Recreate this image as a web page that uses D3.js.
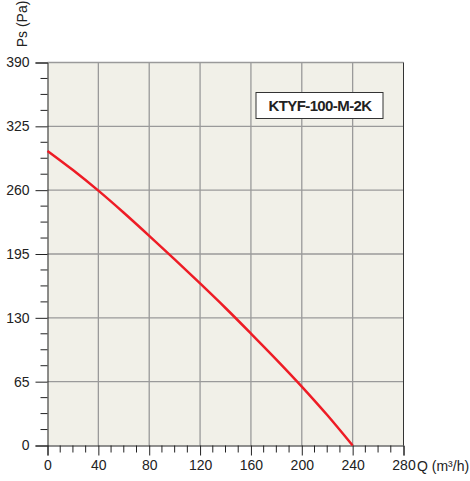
<!DOCTYPE html>
<html><head><meta charset="utf-8">
<script src="https://cdn.jsdelivr.net/npm/d3@7"></script>
<style>body{margin:0;background:#fff;} svg{display:block;font-family:"Liberation Sans",Arial,sans-serif;}</style>
</head><body>
<svg id="c" width="470" height="481"></svg>
<script>
const flowQ = [0, 20, 40, 60, 80, 100, 120, 140, 160, 180, 200, 220, 240];
const pressurePs = [300, 280.5, 259.5, 237, 213.5, 189.5, 165, 140, 114, 87.5, 60, 31, 0];
const xTicks = [0, 40, 80, 120, 160, 200, 240, 280];
const yTicks = [0, 65, 130, 195, 260, 325, 390];
const modelName = "KTYF-100-M-2K";

const svg = d3.select("#c");
const L = 47.5, R = 403.5, T = 62.5, B = 445.5;
const x = d3.scaleLinear().domain([0, 280]).range([L, R]);
const y = d3.scaleLinear().domain([0, 390]).range([B, T]);
const FONT = "Liberation Sans, Arial, sans-serif";

svg.append("rect").attr("x", L).attr("y", T).attr("width", R - L).attr("height", B - T).attr("fill", "#f1f0e8");

const grid = svg.append("g").attr("stroke", "#9a9a9a").attr("stroke-width", 1.3);
xTicks.slice(1, -1).forEach(v => grid.append("line").attr("x1", x(v)).attr("x2", x(v)).attr("y1", T).attr("y2", B));
yTicks.slice(1).forEach(v => grid.append("line").attr("x1", L).attr("x2", R).attr("y1", y(v)).attr("y2", y(v)));
svg.append("line").attr("x1", R).attr("x2", R).attr("y1", T).attr("y2", B).attr("stroke", "#333").attr("stroke-width", 1);

// x axis
const xMinor = d3.range(0, 281, 10).filter(v => v % 40 !== 0);
const xa = svg.append("g").attr("transform", `translate(0,${B})`)
  .call(d3.axisBottom(x).tickValues(xTicks).tickSize(10).tickPadding(5).tickFormat(d3.format("d")));
xa.select(".domain").attr("stroke", "#222");
xa.selectAll(".tick line").attr("stroke", "#222");
xa.selectAll("text").attr("font-size", 14).attr("fill", "#222").attr("font-family", FONT);
xMinor.forEach(v => svg.append("line").attr("x1", x(v)).attr("x2", x(v)).attr("y1", B).attr("y2", B + 7).attr("stroke", "#222"));

// y axis
const yMinor = d3.range(0, 391, 16.25).filter(v => Math.abs(v % 65) > 0.01);
const ya = svg.append("g").attr("transform", `translate(${L},0)`)
  .call(d3.axisLeft(y).tickValues(yTicks).tickSize(12).tickPadding(6).tickFormat(d3.format("d")));
ya.select(".domain").attr("stroke", "#222");
ya.selectAll(".tick line").attr("stroke", "#222");
ya.selectAll("text").attr("font-size", 14).attr("fill", "#222").attr("font-family", FONT);
yMinor.forEach(v => svg.append("line").attr("x1", L - 7).attr("x2", L).attr("y1", y(v)).attr("y2", y(v)).attr("stroke", "#222"));

// curve
const line = d3.line().x((d, i) => x(flowQ[i])).y(d => y(d)).curve(d3.curveMonotoneX);
svg.append("path").datum(pressurePs).attr("d", line).attr("fill", "none").attr("stroke", "#ee1c25").attr("stroke-width", 2.5);

// legend box
svg.append("rect").attr("x", 256).attr("y", 92.5).attr("width", 127).attr("height", 26).attr("fill", "#fff").attr("stroke", "#333").attr("stroke-width", 1);
svg.append("text").attr("x", 320).attr("y", 111).attr("text-anchor", "middle").attr("font-size", 15).attr("font-weight", "bold").attr("fill", "#222").attr("letter-spacing", -0.6).text(modelName);

// axis titles
svg.append("text").attr("transform", "translate(27,24) rotate(-90)").attr("text-anchor", "middle").attr("font-size", 14).attr("fill", "#222").text("Ps (Pa)");
svg.append("text").attr("x", 417).attr("y", 471).attr("font-size", 14).attr("fill", "#222").text("Q (m³/h)");
</script>
</body></html>
